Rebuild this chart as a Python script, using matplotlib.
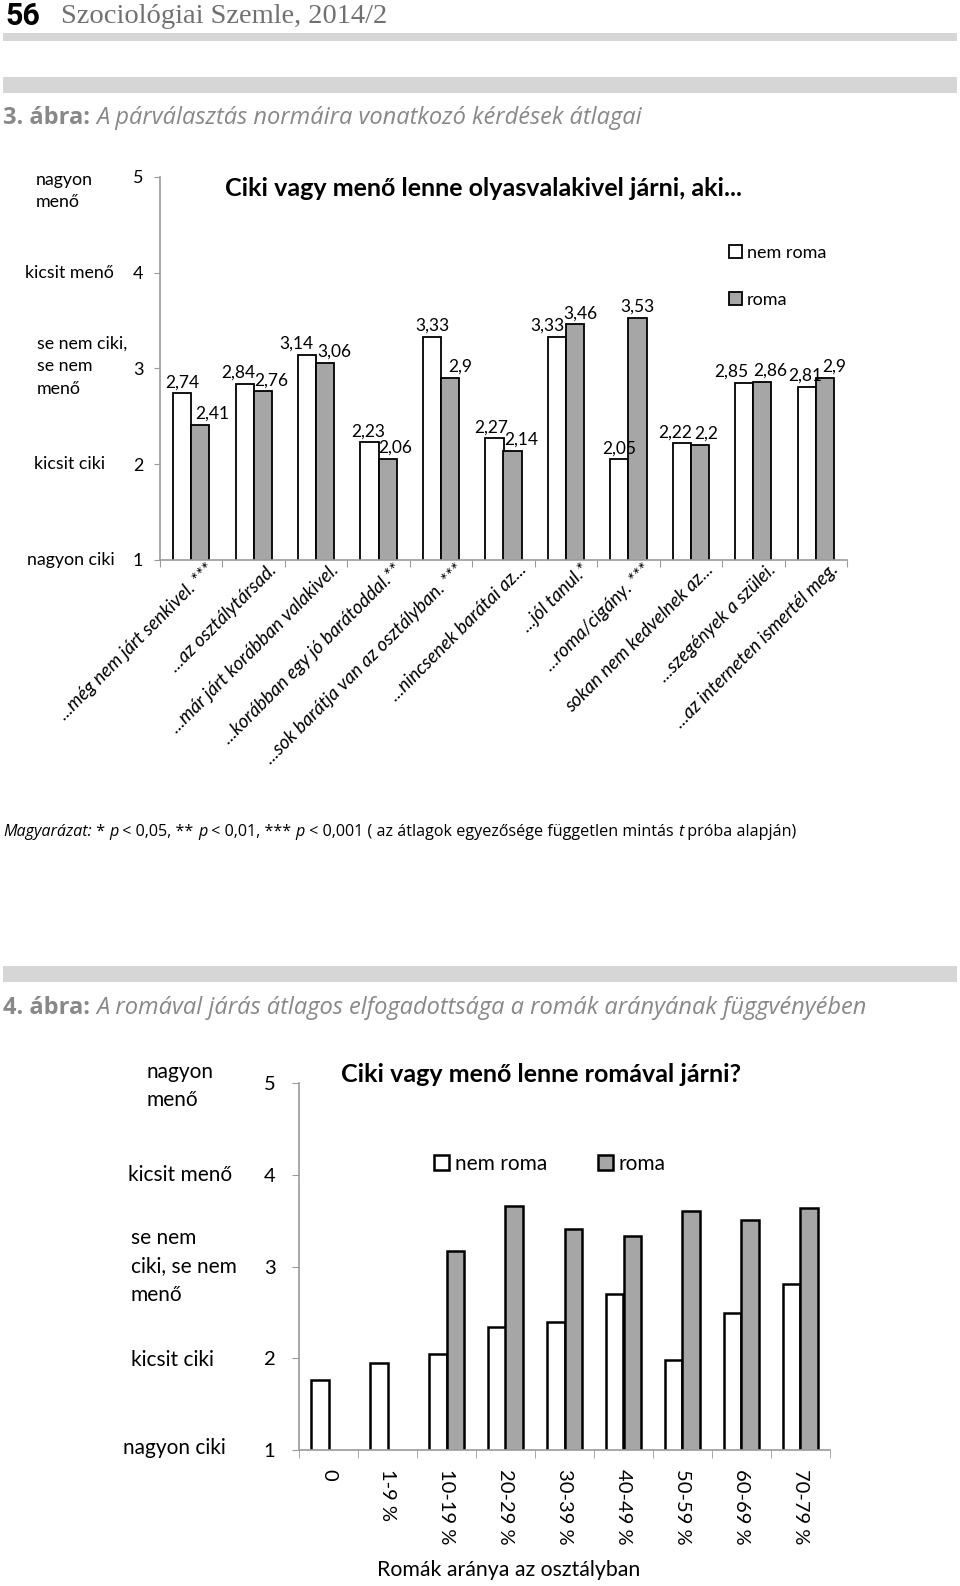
import numpy as np
import matplotlib
matplotlib.use('Agg')
import matplotlib.pyplot as plt
import matplotlib.transforms as mtransforms
from matplotlib.patches import Rectangle

# 3. abra adatai
kerdesek = ["...még nem járt senkivel. ***", "...az osztálytársad.",
            "...már járt korábban valakivel.", "...korábban egy jó barátoddal.**",
            "...sok barátja van az osztályban. ***", "...nincsenek barátai az...",
            "...jól tanul.*", "...roma/cigány. ***", "sokan nem kedvelnek az...",
            "...szegények a szülei.", "...az interneten ismertél meg."]
nem_roma_1 = [2.74, 2.84, 3.14, 2.23, 3.33, 2.27, 3.33, 2.05, 2.22, 2.85, 2.81]
roma_1 = [2.41, 2.76, 3.06, 2.06, 2.9, 2.14, 3.46, 3.53, 2.2, 2.86, 2.9]

# 4. abra adatai
aranyok = ["0", "1-9 %", "10-19 %", "20-29 %", "30-39 %", "40-49 %",
           "50-59 %", "60-69 %", "70-79 %"]
nem_roma_2 = [1.76, 1.95, 2.05, 2.34, 2.39, 2.70, 1.98, 2.49, 2.81]
roma_2 = [np.nan, np.nan, 3.17, 3.66, 3.41, 3.33, 3.60, 3.51, 3.64]

skala = [1, 2, 3, 4, 5]
skala_nevek_1 = ["nagyon ciki", "kicsit ciki", "se nem ciki,\nse nem\nmenő",
                 "kicsit menő", "nagyon\nmenő"]
skala_nevek_2 = ["nagyon ciki", "kicsit ciki", "se nem\nciki, se nem\nmenő",
                 "kicsit menő", "nagyon\nmenő"]

W, H = 960, 1586
fig = plt.figure(figsize=(W / 100, H / 100), dpi=100)
r = fig.canvas.get_renderer()

CHART = ['Lato', 'DejaVu Sans']
PAGE = ['Open Sans', 'DejaVu Sans']
SZURKE = '#a6a6a6'
TENGELY = '#9a9a9a'


def fx(x):
    return x / W


def fy(y):
    return 1 - y / H


def eltolas(dx, dy):
    #offset in pixels (dpi 100)
    return mtransforms.ScaledTranslation(dx / 100, dy / 100, fig.dpi_scale_trans)


def szelesseg(s, **st):
    #width of a piece incl. spaces (pad with x on both sides)
    t = fig.text(0, 0, 'x' + s + 'x', **st)
    t2 = fig.text(0, 0, 'xx', **st)
    w = t.get_window_extent(r).width - t2.get_window_extent(r).width
    t.remove()
    t2.remove()
    return w


def rich(x, y, parts, **kw):
    for s, st in parts:
        st = dict(st, **kw)
        fig.text(fx(x), fy(y), s, va='baseline', **st)
        x += szelesseg(s, **st)


def csik(y0, y1):
    fig.add_artist(Rectangle((fx(3), fy(y1)), (957 - 3) / W, (y1 - y0) / H,
                             transform=fig.transFigure, color='#d6d6d6', lw=0))


# fejlec
fig.text(fx(5), fy(25), "56", family=['Roboto', 'DejaVu Sans'],
         weight='bold', size=22, va='baseline')
fig.text(fx(61), fy(23), "Szociológiai Szemle, 2014/2", family='Liberation Serif',
         size=20.5, color='#707070', va='baseline')
csik(33, 41)
csik(77, 93)
csik(966, 982)

bold = dict(family=PAGE, weight='bold')
ital = dict(family=PAGE, style='italic')
norm = dict(family=PAGE)
rich(3, 124, [("3. ábra: ", bold),
              ("A párválasztás normáira vonatkozó kérdések átlagai", ital)],
     size=17, color='#888888')
rich(3, 1014, [("4. ábra: ", bold),
               ("A romával járás átlagos elfogadottsága a romák arányának függvényében", ital)],
     size=17, color='#888888')
rich(3, 836, [("Magyarázat:", ital), (" * ", norm), ("p", ital), (" < 0,05, ** ", norm),
              ("p", ital), (" < 0,01, *** ", norm), ("p", ital),
              (" < 0,001 ( az átlagok egyezősége független mintás ", norm),
              ("t", ital), (" próba alapján)", norm)],
     size=11.6, color='black')

#########################  3. abra  #########################
ax1 = fig.add_axes([fx(160), fy(560), (847 - 160) / W, (560 - 177) / H])
n1 = len(kerdesek)
kozep1 = np.arange(n1) + 0.5
w1 = 0.29
b1 = ax1.bar(kozep1 - w1 / 2, nem_roma_1, w1, color='white', edgecolor='black',
             linewidth=1.3, label='nem roma')
b2 = ax1.bar(kozep1 + w1 / 2, roma_1, w1, color=SZURKE, edgecolor='black',
             linewidth=1.3, label='roma')
ax1.set_xlim(0, n1)
ax1.set_ylim(1, 5)
for sp in ['top', 'right']:
    ax1.spines[sp].set_visible(False)
for sp in ['left', 'bottom']:
    ax1.spines[sp].set_color(TENGELY)
    ax1.spines[sp].set_linewidth(1.2)

#value labels, shifted sideways like in the original so they don't collide
dx_nem = [0, -6, -11, -1, 0, -3, -9, 0, -7, -13, -1]
dx_rom = [12, 8, 9, 8, 10, 9, 5, 0, 6, 8, 9]
for x, a, b, da, db in zip(kozep1, nem_roma_1, roma_1, dx_nem, dx_rom):
    for xx, v, dx in [(x - w1 / 2, a, da), (x + w1 / 2, b, db)]:
        ax1.annotate(f"{v:g}".replace('.', ','), (xx, v), xytext=(dx, 3),
                     textcoords='offset pixels', ha='center', va='bottom',
                     fontsize=12.5, family=CHART)

ax1.set_yticks(skala)
ax1.set_yticklabels([str(s) for s in skala], fontsize=13, family=CHART)
ax1.tick_params(axis='y', length=4, color=TENGELY, pad=8)
ax1.set_xticks(np.arange(n1 + 1))
ax1.set_xticklabels([])
ax1.tick_params(axis='x', length=5, color=TENGELY)
tr_x = ax1.get_xaxis_transform() + eltolas(14, -1)
for x, k in zip(kozep1, kerdesek):
    ax1.text(x, 0, k, transform=tr_x, rotation=45, rotation_mode='anchor',
             ha='right', va='top', fontsize=13.5, family=CHART, style='italic')

bal1 = fx(np.array([27, 34, 37, 25, 36]))
eltol1 = [0, 0, -2, 0, 14]
for x, s, nev, d in zip(bal1, skala, skala_nevek_1, eltol1):
    tr = mtransforms.blended_transform_factory(fig.transFigure, ax1.transData) + \
        eltolas(0, -d)
    ax1.text(x, s, nev, transform=tr, ha='left', va='center', fontsize=12.8,
             family=CHART, linespacing=1.5)

fig.text(fx(483), fy(189), "Ciki vagy menő lenne olyasvalakivel járni, aki...",
         ha='center', va='center', fontsize=18, weight='bold', family=CHART)
ax1.legend(handles=[b1, b2], loc='upper left', bbox_to_anchor=(fx(729), fy(245)),
           bbox_transform=fig.transFigure, frameon=False,
           prop=dict(family=CHART, size=13), handlelength=0.7, handleheight=0.7,
           handletextpad=0.3, labelspacing=1.7, borderpad=0, borderaxespad=0)

#########################  4. abra  #########################
ax2 = fig.add_axes([fx(299), fy(1450), (830 - 299) / W, (1450 - 1083) / H])
n2 = len(aranyok)
kozep2 = np.arange(n2) + 0.5
w2 = 0.305
c1 = ax2.bar(kozep2 - w2 / 2, nem_roma_2, w2, color='white', edgecolor='black',
             linewidth=1.8, label='nem roma')
van = ~np.isnan(roma_2)
c2 = ax2.bar((kozep2 + w2 / 2)[van], np.array(roma_2)[van], w2, color=SZURKE,
             edgecolor='black', linewidth=1.8, label='roma')
ax2.set_xlim(0, n2)
ax2.set_ylim(1, 5)
for sp in ['top', 'right']:
    ax2.spines[sp].set_visible(False)
for sp in ['left', 'bottom']:
    ax2.spines[sp].set_color(TENGELY)
    ax2.spines[sp].set_linewidth(1.2)

ax2.set_yticks(skala)
ax2.set_yticklabels([str(s) for s in skala], fontsize=14.5, family=CHART)
ax2.tick_params(axis='y', length=5, color=TENGELY, pad=12)
ax2.set_xticks(kozep2)
ax2.set_xticklabels(aranyok, rotation=270, ha='center', va='top', fontsize=14.5,
                    family=CHART)
ax2.set_xticks(np.arange(n2 + 1), minor=True)
ax2.tick_params(axis='x', which='major', length=0, pad=14)
ax2.tick_params(axis='x', which='minor', length=6, color=TENGELY)

bal2 = fx(np.array([123, 131, 131, 128, 147]))
eltol2 = [-2, 2, 0, 0, 3]
for x, s, nev, d in zip(bal2, skala, skala_nevek_2, eltol2):
    tr = mtransforms.blended_transform_factory(fig.transFigure, ax2.transData) + \
        eltolas(0, -d)
    ax2.text(x, s, nev, transform=tr, ha='left', va='center', fontsize=15,
             family=CHART, linespacing=1.55)

fig.text(fx(541), fy(1074), "Ciki vagy menő lenne romával járni?",
         ha='center', va='center', fontsize=18, weight='bold', family=CHART)
fig.text(fx(509), fy(1570), "Romák aránya az osztályban", ha='center', va='center',
         fontsize=15.3, family=CHART)
ax2.legend(handles=[c1, c2], loc='upper left', bbox_to_anchor=(fx(434), fy(1154)),
           bbox_transform=fig.transFigure, frameon=False, ncol=2,
           prop=dict(family=CHART, size=15), handlelength=0.7, handleheight=0.7,
           handletextpad=0.3, columnspacing=2.45, borderpad=0, borderaxespad=0)

fig.savefig('out.png', dpi=100)
